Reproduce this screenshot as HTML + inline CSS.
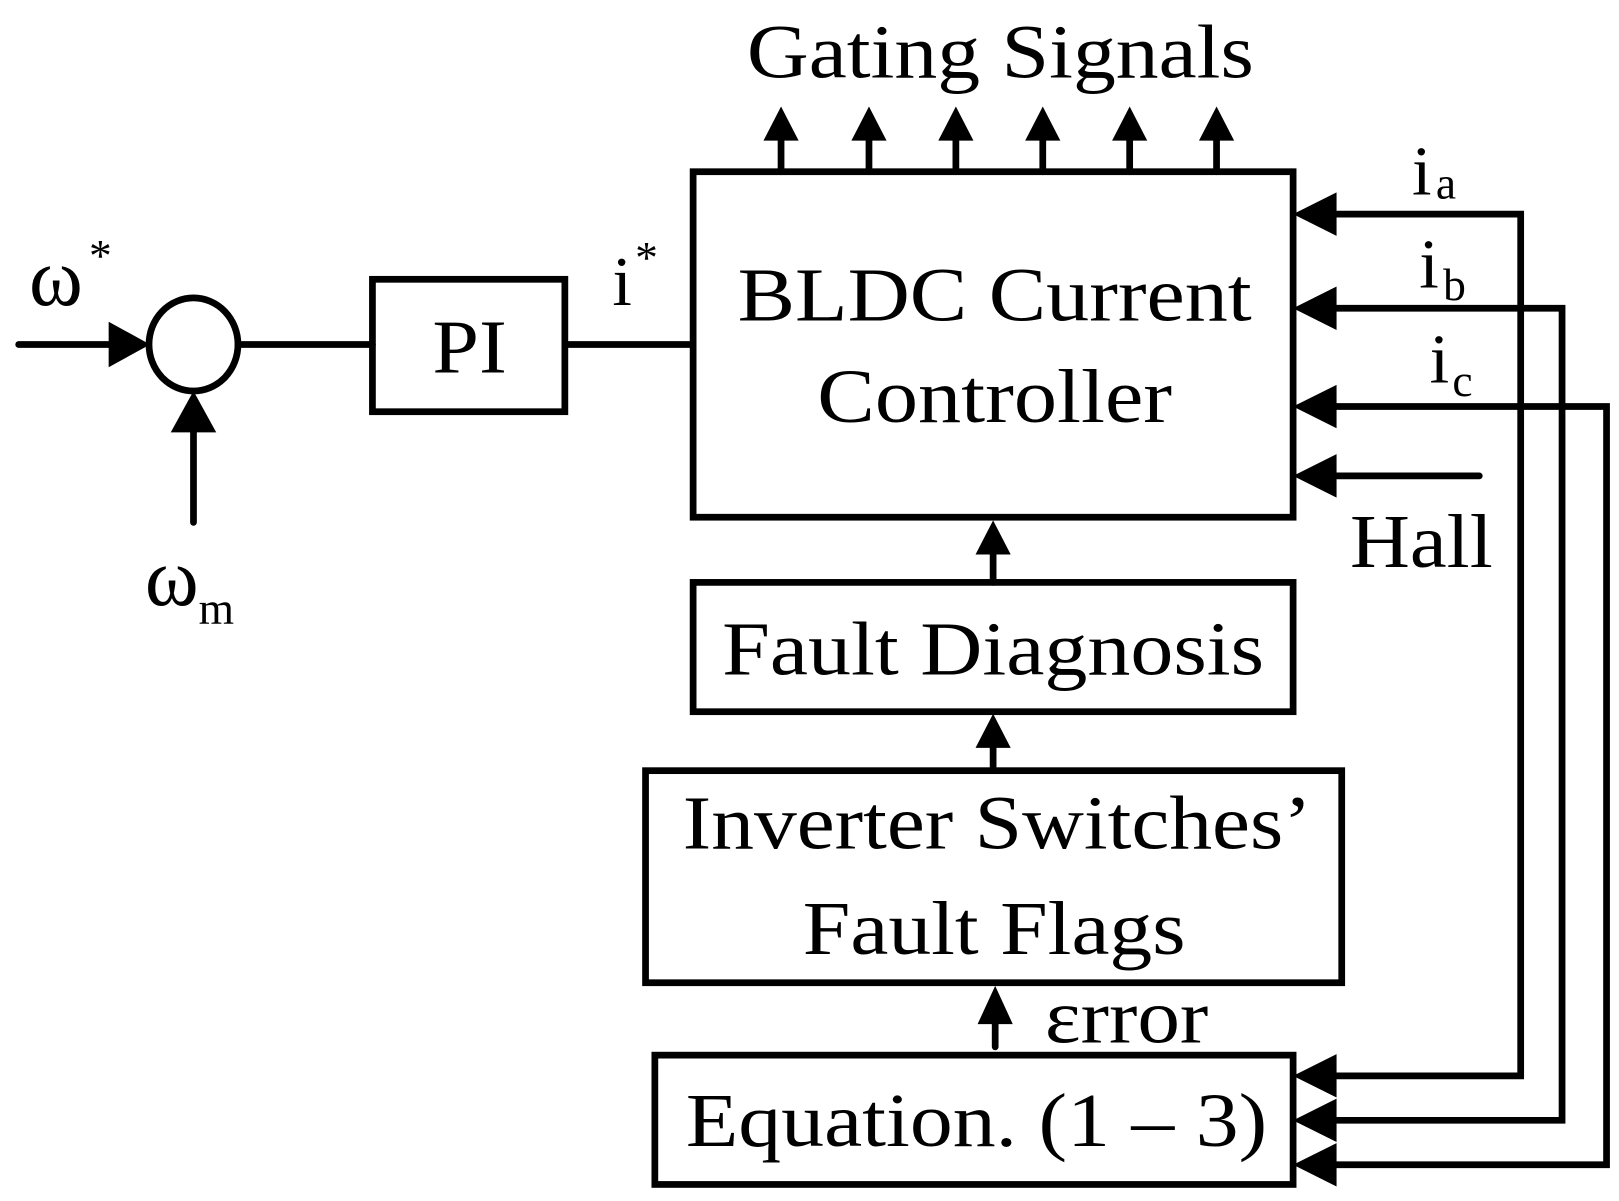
<!DOCTYPE html>
<html><head><style>html,body{margin:0;padding:0;background:#fff}svg{display:block}</style></head>
<body>
<svg width="1619" height="1201" viewBox="0 0 1565 1161" xmlns="http://www.w3.org/2000/svg" font-family="'Liberation Serif', serif" fill="#000">
<g stroke="#000" stroke-width="6.5" fill="none" stroke-linecap="round">
<line x1="18" y1="333" x2="110" y2="333"/>
<ellipse cx="187" cy="333" rx="43" ry="45"/>
<line x1="187" y1="505" x2="187" y2="415"/>
<line x1="230" y1="333" x2="360" y2="333"/>
<rect x="360" y="270" width="186" height="128"/>
<line x1="546" y1="333" x2="670" y2="333"/>
<rect x="670" y="166" width="580" height="334"/>
<line x1="755" y1="166" x2="755" y2="130"/>
<line x1="840" y1="166" x2="840" y2="130"/>
<line x1="924" y1="166" x2="924" y2="130"/>
<line x1="1008" y1="166" x2="1008" y2="130"/>
<line x1="1092" y1="166" x2="1092" y2="130"/>
<line x1="1176" y1="166" x2="1176" y2="130"/>
<polyline points="1285,207 1470,207 1470,1040 1285,1040"/>
<polyline points="1285,298 1510,298 1510,1083 1285,1083"/>
<polyline points="1285,393 1553,393 1553,1126 1285,1126"/>
<line x1="1285" y1="460" x2="1430" y2="460"/>
<rect x="670" y="563" width="580" height="125"/>
<line x1="960" y1="563" x2="960" y2="530"/>
<rect x="624" y="745" width="673" height="205"/>
<line x1="960" y1="745" x2="960" y2="718"/>
<rect x="633" y="1020" width="617" height="125"/>
<line x1="962" y1="1012" x2="962" y2="985"/>
</g>
<g stroke="none">
<polygon points="145,333 105,311 105,355"/>
<polygon points="187,378 165,418 209,418"/>
<polygon points="755,103 738,136 772,136"/>
<polygon points="840,103 823,136 857,136"/>
<polygon points="924,103 907,136 941,136"/>
<polygon points="1008,103 991,136 1025,136"/>
<polygon points="1092,103 1075,136 1109,136"/>
<polygon points="1176,103 1159,136 1193,136"/>
<polygon points="960,503 943,536 977,536"/>
<polygon points="960,690 943,723 977,723"/>
<polygon points="962,953 945,990 979,990"/>
<polygon points="1250,207 1292,186 1292,228"/>
<polygon points="1250,298 1292,277 1292,319"/>
<polygon points="1250,393 1292,372 1292,414"/>
<polygon points="1250,460 1292,439 1292,481"/>
<polygon points="1250,1040 1292,1019 1292,1061"/>
<polygon points="1250,1083 1292,1062 1292,1104"/>
<polygon points="1250,1126 1292,1105 1292,1147"/>
</g>
<g font-size="74" lengthAdjust="spacingAndGlyphs">
<text x="722" y="75" textLength="490" lengthAdjust="spacingAndGlyphs">Gating Signals</text>
<text x="713" y="310" textLength="497" lengthAdjust="spacingAndGlyphs">BLDC Current</text>
<text x="790" y="408" textLength="343" lengthAdjust="spacingAndGlyphs">Controller</text>
<text x="418" y="360" textLength="72" lengthAdjust="spacingAndGlyphs">PI</text>
<text x="698" y="652" textLength="524" lengthAdjust="spacingAndGlyphs">Fault Diagnosis</text>
<text x="660" y="820" textLength="608" lengthAdjust="spacingAndGlyphs">Inverter Switches’</text>
<text x="776" y="922" textLength="370" lengthAdjust="spacingAndGlyphs">Fault Flags</text>
<text x="663" y="1108" textLength="562" lengthAdjust="spacingAndGlyphs">Equation. (1 – 3)</text>
<text x="1010" y="1008" textLength="158" lengthAdjust="spacingAndGlyphs">εrror</text>
<text x="1305" y="548" textLength="138" lengthAdjust="spacingAndGlyphs">Hall</text>
<text x="28" y="295" font-size="80" textLength="52" lengthAdjust="spacingAndGlyphs">ω</text>
<text x="140" y="585" font-size="80" textLength="52" lengthAdjust="spacingAndGlyphs">ω</text>
</g>
<g font-size="68">
<text x="592" y="295">i</text>
<text x="1365" y="188">i</text>
<text x="1372" y="278">i</text>
<text x="1382" y="370">i</text>
</g>
<g font-size="44">
<text x="86" y="262">*</text>
<text x="614" y="264">*</text>
<text x="192" y="603">m</text>
<text x="1388" y="192">a</text>
<text x="1395" y="290">b</text>
<text x="1404" y="383">c</text>
</g>
</svg>
</body></html>
